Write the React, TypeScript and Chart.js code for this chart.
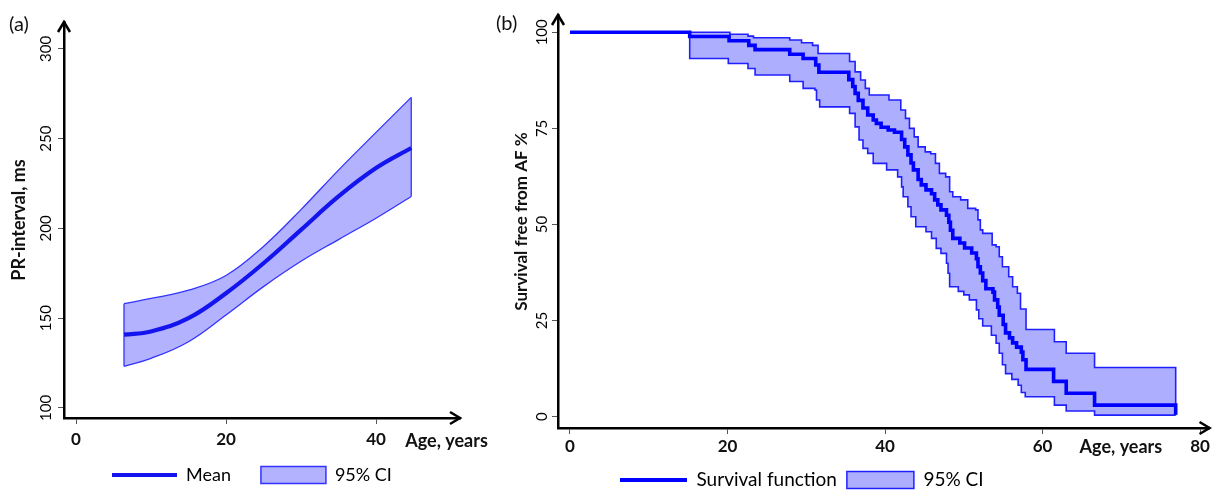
import { useEffect, useRef } from 'react';
import { Chart, registerables } from 'chart.js';

Chart.register(...registerables);

// ---------- Panel (a): PR-interval vs age ----------
const ageA = [6.4, 10, 15, 20, 25, 30, 35, 40, 44.7];
const meanA = [140.8, 142.6, 150.0, 163.9, 180.6, 199.2, 217.8, 233.6, 244.8];
const ciUpA = [158.1, 161.0, 165.6, 173.8, 190.0, 210.5, 232.5, 253.5, 273.0];
const ciLowA = [123.2, 127.6, 136.9, 151.8, 167.6, 181.7, 193.8, 205.7, 217.8];
const xTicksA = [0, 20, 40];
const yTicksA = [100, 150, 200, 250, 300];

// ---------- Panel (b): Kaplan-Meier survival free from AF ----------
const survAge = [0, 15.2, 20.2, 22.7, 23.5, 27.9, 29.6, 31.2, 31.6, 35.4, 35.9, 36.2, 36.6, 37.2, 37.8, 38.5, 38.9, 39.5, 40.4, 41.2, 42.1, 42.5, 42.9, 43.3, 43.6, 44.2, 44.6, 45.2, 45.9, 46.3, 46.7, 47.1, 47.8, 48.1, 48.3, 48.6, 49.5, 50.1, 51.0, 51.6, 51.8, 52.1, 52.4, 52.8, 53.7, 53.9, 54.3, 54.5, 55.0, 55.3, 55.8, 56.2, 56.7, 57.3, 57.5, 57.9, 61.4, 63.0, 66.6, 76.9];
const survPct = [100, 98.9, 97.8, 96.6, 95.5, 94.3, 93.2, 91.5, 89.6, 87.7, 85.9, 84.1, 82.3, 80.3, 78.5, 77.2, 76.3, 75.3, 74.6, 74.0, 72.1, 70.2, 68.1, 66.0, 64.2, 61.7, 60.3, 59.0, 58.0, 56.4, 55.1, 53.8, 52.4, 50.6, 48.5, 46.4, 45.2, 43.9, 42.6, 41.1, 39.0, 37.4, 35.4, 33.3, 32.4, 30.4, 28.5, 26.4, 24.0, 21.8, 20.5, 19.2, 18.1, 16.8, 14.8, 12.3, 9.2, 6.1, 3.0, 0.5];

const upAge = [0, 20.3, 22.6, 23.3, 27.9, 29.4, 30.8, 31.5, 35.5, 36.2, 36.9, 37.5, 38.0, 40.5, 42.0, 42.6, 43.1, 43.7, 44.2, 45.1, 45.8, 46.4, 46.9, 47.7, 48.2, 48.6, 49.6, 50.5, 51.5, 51.8, 52.1, 52.4, 53.6, 54.1, 54.5, 54.9, 55.7, 56.2, 56.8, 57.2, 57.9, 61.5, 63.0, 66.6, 76.9];
const upPct = [100, 99.5, 99.0, 98.6, 98.0, 97.3, 96.6, 94.5, 92.4, 89.7, 87.6, 85.4, 83.7, 82.4, 79.8, 77.6, 75.0, 72.8, 70.2, 68.9, 68.4, 65.9, 63.3, 62.4, 58.5, 57.2, 56.4, 54.2, 53.8, 51.2, 48.6, 47.7, 44.7, 44.2, 41.6, 39.0, 36.4, 33.8, 32.1, 28.0, 22.7, 19.5, 16.5, 12.8, 0.4];

const lowAge = [0, 15.2, 20.1, 22.6, 23.5, 27.9, 29.6, 31.1, 31.3, 31.7, 35.5, 36.2, 36.7, 37.2, 37.8, 38.5, 40.2, 41.6, 42.1, 42.3, 42.9, 43.3, 43.9, 45.2, 45.9, 46.5, 47.1, 47.8, 48.0, 48.2, 49.3, 50.0, 50.7, 51.6, 51.9, 52.4, 53.5, 54.1, 54.5, 54.9, 55.3, 56.1, 56.9, 57.3, 57.8, 61.5, 63.0, 66.6, 76.9];
const lowPct = [100, 93.2, 91.9, 90.6, 88.9, 87.2, 85.4, 85.0, 82.4, 80.6, 78.9, 75.4, 72.0, 69.8, 68.5, 65.9, 64.2, 62.4, 59.8, 57.2, 54.6, 52.0, 49.4, 48.1, 46.4, 43.8, 42.5, 39.9, 37.3, 33.8, 32.6, 31.7, 30.4, 27.8, 25.5, 23.6, 21.2, 19.1, 16.5, 13.5, 11.2, 9.7, 8.2, 6.3, 5.2, 3.0, 1.5, 0.4, 0.4];

const xTicksB = [0, 20, 40, 60, 80];
const yTicksB = [0, 25, 50, 75, 100];

const FONT = 'Lato, "Open Sans", sans-serif';
const BAND_A = 'rgb(178,178,255)';
const BAND_B = 'rgb(174,174,255)';

const pts = (xs: number[], ys: number[]) => xs.map((x, i) => ({ x, y: ys[i] }));
const fixTicks = (values: number[]) => (scale: any) => {
  scale.ticks = values.map((v) => ({ value: v }));
};
const fixWidth = (w: number) => (scale: any) => {
  scale.width = w;
};
const fixHeight = (h: number) => (scale: any) => {
  scale.height = h;
};

const decorPlugin = {
  id: 'decor',
  afterLayout(chart: any, _args: any, opts: any) {
    const lg = chart.legend;
    if (!lg) return;
    const pad = opts.legendPad;
    const fs = opts.legendFont;
    lg.left = opts.legendX - pad;
    lg.right = chart.width + 1000;
    lg.top = opts.legendY - pad - fs / 2;
    lg.bottom = lg.top + fs + 2 * pad;
  },
  afterDraw(chart: any, _args: any, opts: any) {
    const ctx = chart.ctx;
    const { left, right, top, bottom } = chart.chartArea;
    ctx.save();
    ctx.strokeStyle = '#000';
    ctx.lineWidth = 2.5;
    ctx.lineJoin = 'miter';
    ctx.lineCap = 'butt';
    ctx.beginPath();
    ctx.moveTo(left - 6, top + 10);
    ctx.lineTo(left, top);
    ctx.lineTo(left + 6, top + 10);
    ctx.moveTo(right - 10, bottom - 6);
    ctx.lineTo(right, bottom);
    ctx.lineTo(right - 10, bottom + 6);
    ctx.stroke();

    ctx.fillStyle = '#111';
    ctx.textAlign = 'left';
    ctx.textBaseline = 'middle';
    ctx.font = `20px ${FONT}`;
    ctx.fillText(opts.panel, opts.panelX, opts.panelY);

    const xs = chart.scales.x;
    ctx.font = `bold 18px ${FONT}`;
    ctx.fillText(opts.xTitle, xs.getPixelForValue(opts.xTitleAt), opts.xTitleY);
    ctx.restore();
  },
};

const axisGrid = {
  display: true,
  drawOnChartArea: false,
  drawTicks: true,
  tickLength: 6,
  tickWidth: 1,
  tickColor: '#555',
};
const axisBorder = { display: true, color: '#000', width: 2.5 };

function configA(): any {
  return {
    type: 'line',
    data: {
      datasets: [
        {
          label: 'Mean',
          data: pts(ageA, meanA),
          borderColor: '#1414ee',
          borderWidth: 4.2,
          pointRadius: 0,
          tension: 0.4,
          fill: false,
        },
        {
          label: '95% CI',
          data: pts(ageA, ciUpA),
          borderColor: '#3333ff',
          borderWidth: 1.3,
          backgroundColor: BAND_A,
          pointRadius: 0,
          tension: 0.4,
          fill: '+1',
        },
        {
          label: '95% CI lower',
          data: pts(ageA, ciLowA),
          borderColor: '#3333ff',
          borderWidth: 1.3,
          pointRadius: 0,
          tension: 0.4,
          fill: false,
        },
        {
          label: 'edge start',
          data: [
            { x: ageA[0], y: ciLowA[0] },
            { x: ageA[0], y: ciUpA[0] },
          ],
          borderColor: '#3333ff',
          borderWidth: 1.3,
          pointRadius: 0,
          fill: false,
        },
        {
          label: 'edge end',
          data: [
            { x: ageA[ageA.length - 1], y: ciLowA[ciLowA.length - 1] },
            { x: ageA[ageA.length - 1], y: ciUpA[ciUpA.length - 1] },
          ],
          borderColor: '#3333ff',
          borderWidth: 1.3,
          pointRadius: 0,
          fill: false,
        },
      ],
    },
    options: {
      responsive: false,
      animation: false,
      devicePixelRatio: 1,
      events: [],
      layout: { padding: { left: 0, right: 30, top: 22, bottom: 0 } },
      scales: {
        x: {
          type: 'linear',
          min: -1.6,
          max: 51.2,
          afterBuildTicks: fixTicks(xTicksA),
          afterFit: fixHeight(42),
          grid: axisGrid,
          border: axisBorder,
          ticks: {
            font: { family: FONT, size: 17, weight: 'bold' },
            color: '#111',
            padding: 5,
            maxRotation: 0,
            autoSkip: false,
          },
        },
        y: {
          type: 'linear',
          min: 94.4,
          max: 315,
          afterBuildTicks: fixTicks(yTicksA),
          afterFit: fixWidth(64),
          grid: axisGrid,
          border: axisBorder,
          ticks: {
            font: { family: FONT, size: 15 },
            color: '#000',
            padding: -1,
            minRotation: 90,
            maxRotation: 90,
            crossAlign: 'center',
            autoSkip: false,
          },
          title: {
            display: true,
            text: 'PR-interval, ms',
            font: { family: FONT, size: 18, weight: 'bold' },
            color: '#111',
            padding: { top: 8, bottom: 0 },
          },
        },
      },
      plugins: {
        tooltip: { enabled: false },
        filler: { drawTime: 'beforeDatasetsDraw' },
        legend: {
          display: true,
          position: 'bottom',
          align: 'start',
          maxHeight: 30,
          labels: {
            usePointStyle: true,
            pointStyleWidth: 65,
            boxHeight: 17,
            padding: 30,
            color: '#222',
            font: { family: FONT, size: 18 },
            generateLabels: () => [
              { text: 'Mean', pointStyle: 'line', strokeStyle: '#1414ee', fillStyle: '#1414ee', lineWidth: 4.2, hidden: false, datasetIndex: 0 },
              { text: '95% CI', pointStyle: 'rect', strokeStyle: '#3333ff', fillStyle: BAND_A, lineWidth: 1.5, hidden: false, datasetIndex: 1 },
            ],
          },
        },
        decor: {
          panel: '(a)',
          panelX: 9,
          panelY: 25,
          xTitle: 'Age, years',
          xTitleAt: 43.9,
          xTitleY: 441,
          legendX: 112,
          legendY: 475,
          legendPad: 30,
          legendFont: 18,
        },
      },
    },
    plugins: [decorPlugin],
  };
}

function configB(): any {
  return {
    type: 'line',
    data: {
      datasets: [
        {
          label: 'Survival function',
          data: pts(survAge, survPct),
          borderColor: '#0000ff',
          borderWidth: 3.6,
          pointRadius: 0,
          stepped: 'before',
          fill: false,
          borderJoinStyle: 'miter',
        },
        {
          label: '95% CI',
          data: pts(upAge, upPct),
          borderColor: '#2020ff',
          borderWidth: 1.6,
          backgroundColor: BAND_B,
          pointRadius: 0,
          stepped: 'before',
          fill: '+1',
        },
        {
          label: '95% CI lower',
          data: pts(lowAge, lowPct),
          borderColor: '#2020ff',
          borderWidth: 1.6,
          pointRadius: 0,
          stepped: 'before',
          fill: false,
        },
      ],
    },
    options: {
      responsive: false,
      animation: false,
      devicePixelRatio: 1,
      events: [],
      layout: { padding: { left: 0, right: 2, top: 15, bottom: 0 } },
      scales: {
        x: {
          type: 'linear',
          min: -1.52,
          max: 81.2,
          afterBuildTicks: fixTicks(xTicksB),
          afterFit: fixHeight(32),
          grid: axisGrid,
          border: axisBorder,
          ticks: {
            font: { family: FONT, size: 17, weight: 'bold' },
            color: '#111',
            padding: 2,
            maxRotation: 0,
            autoSkip: false,
          },
        },
        y: {
          type: 'linear',
          min: -2.94,
          max: 104.5,
          afterBuildTicks: fixTicks(yTicksB),
          afterFit: fixWidth(68),
          grid: axisGrid,
          border: axisBorder,
          ticks: {
            font: { family: FONT, size: 15 },
            color: '#000',
            padding: -3,
            minRotation: 90,
            maxRotation: 90,
            crossAlign: 'center',
            autoSkip: false,
          },
          title: {
            display: true,
            text: 'Survival free from AF %',
            font: { family: FONT, size: 17, weight: 'bold' },
            color: '#111',
            padding: { top: 21, bottom: 0 },
          },
        },
      },
      plugins: {
        tooltip: { enabled: false },
        filler: { drawTime: 'beforeDatasetsDraw' },
        legend: {
          display: true,
          position: 'bottom',
          align: 'start',
          maxHeight: 30,
          labels: {
            usePointStyle: true,
            pointStyleWidth: 67,
            boxHeight: 17,
            padding: 10,
            color: '#222',
            font: { family: FONT, size: 19 },
            generateLabels: () => [
              { text: 'Survival function', pointStyle: 'line', strokeStyle: '#0000ff', fillStyle: '#0000ff', lineWidth: 4, hidden: false, datasetIndex: 0 },
              { text: '95% CI', pointStyle: 'rect', strokeStyle: '#2020ff', fillStyle: BAND_B, lineWidth: 1.5, hidden: false, datasetIndex: 1 },
            ],
          },
        },
        decor: {
          panel: '(b)',
          panelX: 6,
          panelY: 24,
          xTitle: 'Age, years',
          xTitleAt: 64.7,
          xTitleY: 447,
          legendX: 130,
          legendY: 480,
          legendPad: 10,
          legendFont: 19,
        },
      },
    },
    plugins: [decorPlugin],
  };
}

export default function App() {
  const refA = useRef<HTMLCanvasElement>(null);
  const refB = useRef<HTMLCanvasElement>(null);

  useEffect(() => {
    const a = new Chart(refA.current as HTMLCanvasElement, configA());
    const b = new Chart(refB.current as HTMLCanvasElement, configB());
    return () => {
      a.destroy();
      b.destroy();
    };
  }, []);

  return (
    <div style={{ position: 'absolute', left: 0, top: 0, width: 1212, height: 490, background: '#fff' }}>
      <canvas
        ref={refA}
        width={490}
        height={490}
        style={{ position: 'absolute', left: 0, top: 0, width: 490, height: 490, display: 'block' }}
      />
      <canvas
        ref={refB}
        width={722}
        height={490}
        style={{ position: 'absolute', left: 490, top: 0, width: 722, height: 490, display: 'block' }}
      />
    </div>
  );
}
